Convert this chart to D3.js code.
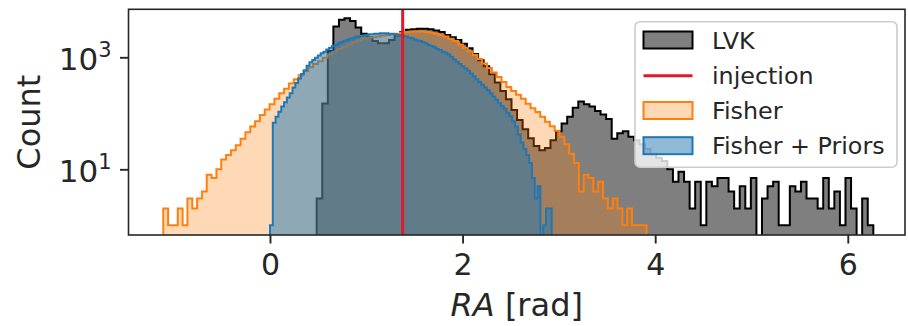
<!DOCTYPE html>
<html><head><meta charset="utf-8">
<script src="https://cdn.jsdelivr.net/npm/d3@7"></script>
<style>body{margin:0;background:#fff} svg{display:block} text{font-family:"DejaVu Sans",sans-serif;fill:#262626}</style>
</head><body>
<svg id="c" width="908" height="326"></svg>
<script>
// ---- data ----
const lvkRange = [0.485, 6.265];
const lvkCounts = [3,150,1300,3550,4680,5000,4470,3390,2630,2290,
  1950,1780,1780,2040,2450,2820,3090,3160,3240,3240,
  3160,3020,2820,2510,2290,2040,1740,1450,1150,890,
  690,500,355,250,178,115,76,52,36,26,
  22,24,33,48,66,87,126,162,145,132,
  110,95,79,35,44,48,38,33,28,23,
  19,16,14,10,6,9,6,2,6,1,
  6,5,7,7,4,2,5,2,7,0,
  3,5,6,1,1,5,4,6,3,3,
  2,7,2,4,1,7,2,0,3,1];
const fisherRange = [-1.108, 3.91];
const fisherCounts = [2,1,1,2,1,3,2,3,4,8,
  7,10,15,18,22,27,35,46,58,72,
  93,117,145,182,229,275,339,407,479,562,
  661,759,851,977,1122,1259,1413,1549,1698,1862,
  1995,2138,2240,2290,2340,2450,2510,2570,2630,2750,
  2820,2880,2880,2880,2820,2750,2630,2510,2344,2138,
  1950,1698,1479,1288,1096,933,776,646,537,447,
  363,295,251,214,182,148,123,105,87,71,
  59,49,38,28,19,13,4,8,7,4,
  6,3,2,3,2,1,2,1,1,1];
const priorsRange = [0, 2.925];
const priorsCounts = [1,68,87,107,132,158,191,229,288,347,
  417,501,589,708,813,891,977,1072,1175,1259,
  1380,1479,1585,1660,1778,1862,1950,2042,2138,2188,
  2291,2344,2399,2455,2512,2570,2570,2630,2630,2692,
  2692,2692,2630,2630,2570,2512,2455,2399,2344,2239,
  2188,2089,1995,1950,1862,1778,1660,1585,1514,1413,
  1349,1259,1202,1122,1023,912,832,759,692,631,
  575,513,457,407,363,324,288,257,229,200,
  174,151,135,120,102,89,72,58,42,30,
  23,18,13,7,3,5,0,1,2,2];
const injection = 1.378;
const xTicks = [0, 2, 4, 6];
const yTickExps = [1, 3];
const legendLabels = ["LVK", "injection", "Fisher", "Fisher + Priors"];

// ---- layout ----
const L = 128.5, R = 905, T = 9.3, B = 235;
const svg = d3.select("#c");
const x = d3.scaleLinear().domain([-1.469, 6.594]).range([L, R]);
const y = d3.scaleLog().domain([Math.pow(10, -0.173), Math.pow(10, 3.857)]).range([B, T]);

svg.append("defs").append("clipPath").attr("id", "clip")
  .append("rect").attr("x", L).attr("y", T).attr("width", R - L).attr("height", B - T);

function stepPath(range, counts) {
  const n = counts.length, w = (range[1] - range[0]) / n;
  const yy = c => c > 0 ? y(c) : B + 5;
  let p = `M${x(range[0])},${B + 5}`;
  counts.forEach((c, i) => {
    const x0 = x(range[0] + i * w), x1 = x(range[0] + (i + 1) * w);
    p += `L${x0},${yy(c)}L${x1},${yy(c)}`;
  });
  p += `L${x(range[1])},${B + 5}Z`;
  return p;
}

const g = svg.append("g").attr("clip-path", "url(#clip)");
const series = [
  {r: lvkRange, c: lvkCounts, fill: "#000", fo: 0.5, stroke: "#000"},
  {r: fisherRange, c: fisherCounts, fill: "#ff7f0e", fo: 0.3, stroke: "#ff7f0e"},
  {r: priorsRange, c: priorsCounts, fill: "#1f77b4", fo: 0.5, stroke: "#1f77b4"}
];
series.forEach(s => {
  const d = stepPath(s.r, s.c);
  g.append("path").attr("d", d).attr("fill", s.fill).attr("fill-opacity", s.fo).attr("stroke", "none");
  g.append("path").attr("d", d).attr("fill", "none").attr("stroke", s.stroke).attr("stroke-width", 2).attr("stroke-linejoin", "miter");
});
g.append("line").attr("x1", x(injection)).attr("x2", x(injection)).attr("y1", T).attr("y2", B)
  .attr("stroke", "#e0182d").attr("stroke-width", 3);

// axes
const xAxis = svg.append("g").attr("transform", `translate(0,${B})`)
  .call(d3.axisBottom(x).tickValues(xTicks).tickFormat(d3.format("d")).tickSize(8.5).tickPadding(10));
xAxis.select(".domain").remove();
xAxis.selectAll("line").attr("stroke", "#262626").attr("stroke-width", 1.9);
xAxis.selectAll("text").attr("font-size", 30).attr("font-family", "DejaVu Sans").attr("fill", "#262626");

const yAxis = svg.append("g").attr("transform", `translate(${L},0)`)
  .call(d3.axisLeft(y).tickValues(yTickExps.map(e => Math.pow(10, e))).tickFormat("").tickSize(8.5));
yAxis.select(".domain").remove();
yAxis.selectAll("line").attr("stroke", "#262626").attr("stroke-width", 1.9);
yTickExps.forEach(e => {
  const t = svg.append("text").attr("x", L - 17).attr("y", y(Math.pow(10, e)) + 12.5)
    .attr("text-anchor", "end").attr("font-size", 31);
  t.append("tspan").text("10");
  t.append("tspan").attr("font-size", 21).attr("dy", -12.5).text(String(e));
});

svg.append("rect").attr("x", L).attr("y", T).attr("width", R - L).attr("height", B - T)
  .attr("fill", "none").attr("stroke", "#262626").attr("stroke-width", 1.6);

// labels
svg.append("text").attr("transform", `translate(40,${(T + B) / 2}) rotate(-90)`)
  .attr("text-anchor", "middle").attr("font-size", 32).text("Count");
const xl = svg.append("text").attr("x", (L + R) / 2).attr("y", 316).attr("text-anchor", "middle").attr("font-size", 32);
xl.append("tspan").attr("font-style", "italic").text("RA");
xl.append("tspan").text(" [rad]");

// legend
const lg = svg.append("g");
lg.append("rect").attr("x", 635).attr("y", 21.7).attr("width", 262).attr("height", 145.5).attr("rx", 5)
  .attr("fill", "#fff").attr("fill-opacity", 0.8).attr("stroke", "#cccccc").attr("stroke-width", 1.6);
const rowY = [40, 75.7, 110.5, 145.7];
const pat = [
  {type: "patch", fill: "#000", fo: 0.5, stroke: "#000"},
  {type: "line", stroke: "#e0182d"},
  {type: "patch", fill: "#ff7f0e", fo: 0.3, stroke: "#ff7f0e"},
  {type: "patch", fill: "#1f77b4", fo: 0.5, stroke: "#1f77b4"}
];
legendLabels.forEach((lab, i) => {
  const cy = rowY[i], p = pat[i];
  if (p.type === "patch") {
    lg.append("rect").attr("x", 643.5).attr("y", cy - 8.5).attr("width", 49).attr("height", 17)
      .attr("fill", p.fill).attr("fill-opacity", p.fo).attr("stroke", p.stroke).attr("stroke-width", 2);
  } else {
    lg.append("line").attr("x1", 643.5).attr("x2", 692.5).attr("y1", cy).attr("y2", cy)
      .attr("stroke", p.stroke).attr("stroke-width", 3);
  }
  lg.append("text").attr("x", 712).attr("y", cy + 8.6).attr("font-size", 23.8).text(lab);
});
</script>
</body></html>
